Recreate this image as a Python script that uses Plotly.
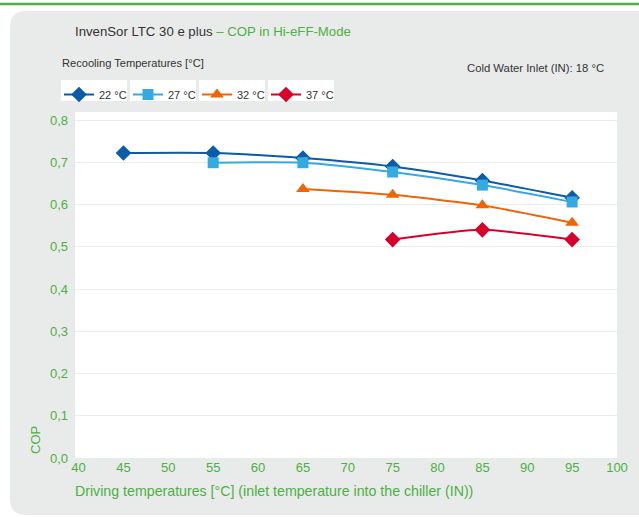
import plotly.graph_objects as go

# ---- data ----
driving_temps = [45, 55, 65, 75, 85, 95]
series_names = ["22 °C", "27 °C", "32 °C", "37 °C"]
cop_22 = [0.722, 0.722, 0.710, 0.690, 0.657, 0.616]
cop_27 = [None, 0.699, 0.699, 0.677, 0.646, 0.606]
cop_32 = [None, None, 0.637, 0.623, 0.598, 0.557]
cop_37 = [None, None, None, 0.517, 0.540, 0.517]
x_ticks = [40, 45, 50, 55, 60, 65, 70, 75, 80, 85, 90, 95, 100]
y_ticks = [0.0, 0.1, 0.2, 0.3, 0.4, 0.5, 0.6, 0.7, 0.8]

colors = ["#0a5ca8", "#36a9e1", "#ec6608", "#d6002a"]
symbols = ["diamond", "square", "triangle-up", "diamond"]
sizes = [12, 11, 12, 12]
GREEN = "#4cb043"
DARK = "#333333"
FONT = "Liberation Sans, Arial, sans-serif"

W, H = 639, 517
L, R, T, B = 75, 22, 112, 59
PW, PH = W - L - R, H - T - B


def px(x):
    return (x - L) / PW


def py(y):
    return (H - B - y) / PH


fig = go.Figure()
for name, vals, c, s, sz in zip(series_names, [cop_22, cop_27, cop_32, cop_37], colors, symbols, sizes):
    fig.add_trace(go.Scatter(
        x=driving_temps, y=vals, name=name, mode="lines+markers",
        line=dict(color=c, width=2, shape="spline", smoothing=0.6),
        marker=dict(symbol=s, size=sz, color=c),
        connectgaps=False,
    ))

shapes = []
# gray rounded panel
x0, y0, x1, y1, r = 10, 11, 680, 515, 16
path = (f"M {px(x0 + r)},{py(y0)} L {px(x1)},{py(y0)} L {px(x1)},{py(y1)} "
        f"L {px(x0 + r)},{py(y1)} Q {px(x0)},{py(y1)} {px(x0)},{py(y1 - r)} "
        f"L {px(x0)},{py(y0 + r)} Q {px(x0)},{py(y0)} {px(x0 + r)},{py(y0)} Z")
shapes.append(dict(type="path", xref="paper", yref="paper", path=path,
                   fillcolor="#e9ebea", line=dict(width=0), layer="below"))
# white plot area
shapes.append(dict(type="rect", xref="paper", yref="paper", x0=0, x1=1, y0=0, y1=1,
                   fillcolor="white", line=dict(width=0), layer="below"))
# green top line
shapes.append(dict(type="line", xref="paper", yref="paper", x0=px(0), x1=px(W),
                   y0=py(4), y1=py(4), line=dict(color=GREEN, width=2.5)))
# white legend boxes
STEP = 69
for i in range(4):
    bx = 61 + i * STEP
    shapes.append(dict(type="rect", xref="paper", yref="paper", x0=px(bx), x1=px(bx + STEP - 3),
                       y0=py(80), y1=py(101), fillcolor="white", line=dict(width=0), layer="below"))

annotations = [
    dict(text=f"<span style='color:{DARK}'>InvenSor LTC 30 e plus</span>"
              f"<span style='color:{GREEN}'> – COP in Hi-eFF-Mode</span>",
         xref="paper", yref="paper", x=px(73), y=py(32), xanchor="left", yanchor="middle",
         showarrow=False, font=dict(size=13.2, family=FONT)),
    dict(text="Recooling Temperatures [°C]", xref="paper", yref="paper", x=px(60), y=py(63),
         xanchor="left", yanchor="middle", showarrow=False, font=dict(size=11.1, color=DARK, family=FONT)),
    dict(text="Cold Water Inlet (IN): 18 °C", xref="paper", yref="paper", x=px(606), y=py(68),
         xanchor="right", yanchor="middle", showarrow=False, font=dict(size=11.3, color=DARK, family=FONT)),
    dict(text="COP", xref="paper", yref="paper", x=px(35), y=py(440), textangle=-90,
         xanchor="center", yanchor="middle", showarrow=False, font=dict(size=13, color=GREEN, family=FONT)),
    dict(text="Driving temperatures [°C] (inlet temperature into the chiller (IN))",
         xref="paper", yref="paper", x=px(73), y=py(491), xanchor="left", yanchor="middle",
         showarrow=False, font=dict(size=14.2, color=GREEN, family=FONT)),
]

fig.update_layout(
    width=W, height=H,
    margin=dict(l=L, r=R, t=T, b=B),
    paper_bgcolor="white", plot_bgcolor="rgba(0,0,0,0)",
    separators=",.",
    font=dict(family=FONT, color=GREEN),
    shapes=shapes, annotations=annotations,
    showlegend=True,
    legend=dict(orientation="h", x=px(59), y=py(80), xanchor="left", yanchor="top",
                bgcolor="rgba(0,0,0,0)", entrywidth=STEP - 45, entrywidthmode="pixels",
                font=dict(size=11, color=DARK, family=FONT), itemwidth=30,
                tracegroupgap=0),
    xaxis=dict(range=[39.6, 100], tickvals=x_ticks, showgrid=False, zeroline=False,
               showline=False, ticks="", tickfont=dict(size=13, color=GREEN), fixedrange=True),
    yaxis=dict(range=[0, 0.819], tickvals=y_ticks, tickformat=".1f", showgrid=True,
               gridcolor="#ececec", gridwidth=1, zeroline=False, showline=False, ticks="",
               tickfont=dict(size=13, color=GREEN), ticklabelstandoff=6),
)

fig.write_html("out.html", config={"displayModeBar": False},
               post_script="document.body.style.margin='0';document.body.style.overflow='hidden';")
